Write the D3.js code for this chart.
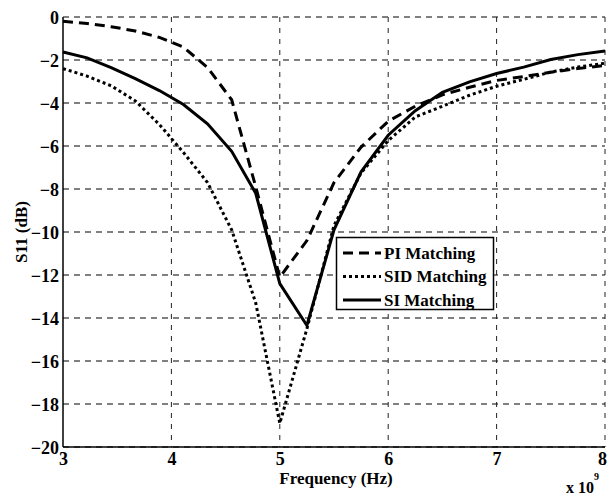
<!DOCTYPE html>
<html><head><meta charset="utf-8">
<script src="https://cdn.jsdelivr.net/npm/d3@7"></script>
<style>body{margin:0;background:#fff}svg{display:block}</style>
</head><body>
<svg id="c" width="608" height="495"></svg>
<script>
const freqGHz = [3, 3.222, 3.444, 3.667, 3.889, 4.111, 4.333, 4.556, 4.778, 5,
  5.25, 5.5, 5.75, 6, 6.25, 6.5, 6.75, 7, 7.25, 7.5, 7.75, 8];
const piMatching  = [-0.2, -0.3, -0.45, -0.65, -0.95, -1.4, -2.35, -3.85, -7.9, -12.1,
  -10.4, -7.7, -6.05, -4.85, -4.15, -3.62, -3.27, -2.95, -2.77, -2.57, -2.4, -2.25];
const sidMatching = [-2.4, -2.75, -3.2, -3.9, -5.0, -6.3, -7.7, -9.9, -13.3, -18.9,
  -14.5, -9.7, -7.25, -5.75, -4.65, -4.15, -3.64, -3.22, -2.9, -2.56, -2.33, -2.15];
const siMatching  = [-1.63, -1.9, -2.35, -2.87, -3.42, -4.07, -4.97, -6.25, -8.2, -12.4,
  -14.35, -9.9, -7.2, -5.5, -4.36, -3.5, -3.02, -2.63, -2.33, -1.98, -1.75, -1.58];
const xTicks = [3, 4, 5, 6, 7, 8];
const yTicks = [0, -2, -4, -6, -8, -10, -12, -14, -16, -18, -20];
const seriesNames = ["PI Matching", "SID Matching", "SI Matching"];

const svg = d3.select("#c");
const L = 63, R = 605, T = 17, B = 447;
const x = d3.scaleLinear().domain([3, 8]).range([L, R]);
const y = d3.scaleLinear().domain([-20, 0]).range([B, T]);
const font = "'Liberation Serif', 'Times New Roman', serif";

// horizontal grid (gray dashed)
svg.append("g").selectAll("line").data(yTicks).join("line")
  .attr("x1", L).attr("x2", R).attr("y1", d => y(d)).attr("y2", d => y(d))
  .attr("stroke", "#808080").attr("stroke-width", 2).attr("stroke-dasharray", "6,5");
// vertical grid (dark dashed)
svg.append("g").selectAll("line").data(xTicks.slice(1)).join("line")
  .attr("x1", d => x(d)).attr("x2", d => x(d)).attr("y1", T).attr("y2", B)
  .attr("stroke", "#222").attr("stroke-width", 1).attr("stroke-dasharray", "5,6");

// axes
svg.append("line").attr("x1", L).attr("x2", L).attr("y1", T).attr("y2", B)
  .attr("stroke", "#000").attr("stroke-width", 1.5);
svg.append("line").attr("x1", L).attr("x2", R).attr("y1", B).attr("y2", B)
  .attr("stroke", "#000").attr("stroke-width", 1.5);

const yAxis = d3.axisLeft(y).tickValues(yTicks).tickSize(0).tickPadding(4).tickFormat(d3.format("d"));
const gy = svg.append("g").attr("transform", `translate(${L},0)`).call(yAxis);
gy.select(".domain").remove();
gy.selectAll("text").attr("font-family", font).attr("font-weight", "bold")
  .attr("font-size", 18).attr("fill", "#000").attr("dy", "0.35em");

const xAxis = d3.axisBottom(x).tickValues(xTicks).tickSize(0).tickPadding(5).tickFormat(d3.format("d"));
const gx = svg.append("g").attr("transform", `translate(0,${B})`).call(xAxis);
gx.select(".domain").remove();
gx.selectAll("text").attr("font-family", font).attr("font-weight", "bold")
  .attr("font-size", 18).attr("fill", "#000").attr("dy", "0.7em")
  .attr("dx", d => d === 8 ? -3 : 0);

// axis labels
svg.append("text").attr("x", (L + R) / 2 + 2).attr("y", 484).attr("text-anchor", "middle")
  .attr("font-family", font).attr("font-weight", "bold").attr("font-size", 17).text("Frequency (Hz)");
svg.append("text").attr("transform", `translate(27,${(T + B) / 2}) rotate(-90)`).attr("text-anchor", "middle")
  .attr("font-family", font).attr("font-weight", "bold").attr("font-size", 17).text("S11 (dB)");
const ex = svg.append("text").attr("x", 566).attr("y", 493)
  .attr("font-family", font).attr("font-weight", "bold").attr("font-size", 16);
ex.append("tspan").text("x 10");
ex.append("tspan").attr("font-size", 10).attr("dy", -13).text("9");

// series
const styles = [
  { data: piMatching, dash: "10,6" },
  { data: sidMatching, dash: "3,3" },
  { data: siMatching, dash: null }
];
const line = d3.line().x((d, i) => x(freqGHz[i])).y(d => y(d));
svg.append("g").selectAll("path").data(styles).join("path")
  .attr("d", d => line(d.data)).attr("fill", "none").attr("stroke", "#000")
  .attr("stroke-width", 3).attr("stroke-dasharray", d => d.dash)
  .attr("stroke-linejoin", "miter");

// legend
const lg = svg.append("g");
lg.append("rect").attr("x", 336.5).attr("y", 237.5).attr("width", 157).attr("height", 72)
  .attr("fill", "#fff").attr("stroke", "#000").attr("stroke-width", 1.5);
styles.forEach((s, i) => {
  const yy = 253 + i * 23.5;
  lg.append("line").attr("x1", 343).attr("x2", 381).attr("y1", yy).attr("y2", yy)
    .attr("stroke", "#000").attr("stroke-width", 3).attr("stroke-dasharray", s.dash);
  lg.append("text").attr("x", 384).attr("y", yy).attr("dy", "0.35em")
    .attr("font-family", font).attr("font-weight", "bold").attr("font-size", 17).text(seriesNames[i]);
});
</script>
</body></html>
